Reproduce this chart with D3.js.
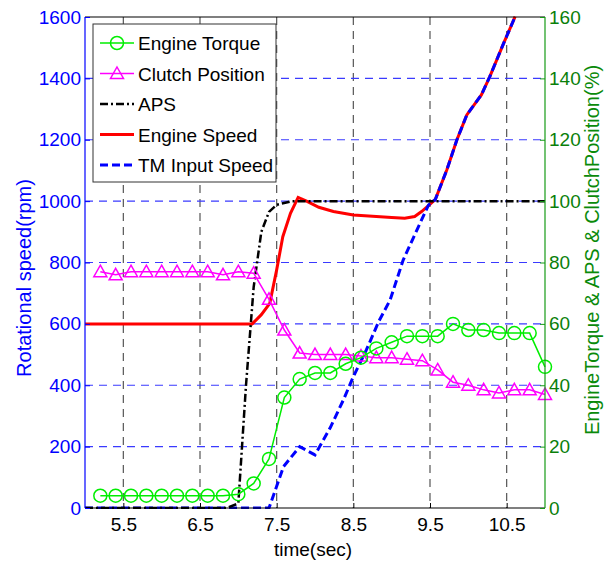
<!DOCTYPE html>
<html><head><meta charset="utf-8">
<script src="https://cdn.jsdelivr.net/npm/d3@7"></script>
<style>body{margin:0;background:#fff}</style></head>
<body><svg id="c" width="613" height="566"></svg>
<script>
const xTicks = [5.5, 6.5, 7.5, 8.5, 9.5, 10.5];
const rpmTicks = [0, 200, 400, 600, 800, 1000, 1200, 1400, 1600];
const pctTicks = [0, 20, 40, 60, 80, 100, 120, 140, 160];

const markerTime = [5.2,5.4,5.6,5.8,6.0,6.2,6.4,6.6,6.8,7.0,7.2,7.4,7.6,7.8,8.0,8.2,8.4,8.6,8.8,9.0,9.2,9.4,9.6,9.8,10.0,10.2,10.4,10.6,10.8,11.0];
const engineTorque = [4,4,4,4,4,4,4,4,4,4.5,8,16,36,42,44,44,47,49,52,54,56,56,56,60,58,58,57,57,57,46];
const clutchPosition = [77,76,77,77,77,77,77,77,76,77,76.5,68,58,50.5,50,50,50,49.5,49,49,48.5,48,45,41,40,38.5,37.5,38.5,38.5,37];

const apsTime = [5.0,6.85,7.0,7.1,7.2,7.3,7.4,7.5,7.7,11.0];
const apsValue = [0,0,1.5,40,72,90,96.5,98.8,100,100];

const engineSpeedTime = [5.0,7.18,7.3,7.41,7.5,7.58,7.68,7.78,7.89,8.05,8.24,8.5,8.85,9.0,9.17,9.3,9.39,9.48,9.57,9.72,9.85,9.98,10.17,10.28,10.46,10.61];
const engineSpeed = [600,600,630,667,776,884,960,1012,1000,980,966,955,949,947,944,950,966,985,1006,1102,1199,1281,1346,1406,1514,1601];

const tmSpeedTime = [5.0,7.4,7.59,7.8,8.0,8.2,8.37,8.5,8.67,8.83,8.98,9.15,9.3,9.48,9.57,9.72,9.85,9.98,10.17,10.28,10.46,10.61];
const tmSpeed = [0,0,135,200,173,262,352,428,515,607,678,808,890,987,1006,1102,1199,1281,1346,1406,1514,1601];

const legendLabels = ["Engine Torque","Clutch Position","APS","Engine Speed","TM Input Speed"];

const L = 85, R = 545, T = 17, B = 508;
const svg = d3.select("#c");
const font = "'Liberation Sans', Arial, sans-serif";
const x = d3.scaleLinear().domain([5, 11]).range([L, R]);
const yL = d3.scaleLinear().domain([0, 1600]).range([B, T]);
const yR = d3.scaleLinear().domain([0, 160]).range([B, T]);

// grid
const g = svg.append("g");
g.selectAll("line.vg").data(xTicks).join("line")
  .attr("x1", d => x(d)).attr("x2", d => x(d)).attr("y1", T).attr("y2", B)
  .attr("stroke", "#555").attr("stroke-width", 1.2).attr("stroke-dasharray", "8,6");
g.selectAll("line.hg").data(rpmTicks.filter(d => d > 0 && d < 1600)).join("line")
  .attr("x1", L).attr("x2", R).attr("y1", d => yL(d)).attr("y2", d => yL(d))
  .attr("stroke", "#3a3aff").attr("stroke-width", 1.1).attr("stroke-dasharray", "8,6");

const clip = svg.append("clipPath").attr("id", "pc").append("rect")
  .attr("x", L).attr("y", T - 1).attr("width", R - L).attr("height", B - T + 2);
const plot = svg.append("g").attr("clip-path", "url(#pc)");

const lineL = (ts, vs) => d3.line().x((d, i) => x(ts[i])).y(d => yL(d))(vs);
const lineR = (ts, vs) => d3.line().x((d, i) => x(ts[i])).y(d => yR(d))(vs);

plot.append("path").attr("d", lineL(engineSpeedTime, engineSpeed))
  .attr("fill", "none").attr("stroke", "#ff0000").attr("stroke-width", 3);
plot.append("path").attr("d", lineL(tmSpeedTime, tmSpeed))
  .attr("fill", "none").attr("stroke", "#0000ff").attr("stroke-width", 3).attr("stroke-dasharray", "8,4");

const tri = (cx, cy) => `M${cx},${cy-6.5}L${cx+6.5},${cy+5}L${cx-6.5},${cy+5}Z`;

svg.append("path").attr("d", lineR(markerTime, clutchPosition))
  .attr("fill", "none").attr("stroke", "#ff00ff").attr("stroke-width", 1.5);
svg.selectAll("path.tri").data(clutchPosition).join("path").attr("class", "tri")
  .attr("d", (d, i) => tri(x(markerTime[i]), yR(d)))
  .attr("fill", "none").attr("stroke", "#ff00ff").attr("stroke-width", 1.5);

svg.append("path").attr("d", lineR(markerTime, engineTorque))
  .attr("fill", "none").attr("stroke", "#00ee00").attr("stroke-width", 1.5);
svg.selectAll("circle.tq").data(engineTorque).join("circle").attr("class", "tq")
  .attr("cx", (d, i) => x(markerTime[i])).attr("cy", d => yR(d)).attr("r", 6.5)
  .attr("fill", "none").attr("stroke", "#00ee00").attr("stroke-width", 1.5);

plot.append("path").attr("d", lineR(apsTime, apsValue))
  .attr("fill", "none").attr("stroke", "#000").attr("stroke-width", 2.5).attr("stroke-dasharray", "8,3,2,3");

// frame
svg.append("line").attr("x1", L).attr("x2", R).attr("y1", T).attr("y2", T).attr("stroke", "#000").attr("stroke-width", 1.2);
svg.append("line").attr("x1", L).attr("x2", R).attr("y1", B).attr("y2", B).attr("stroke", "#000").attr("stroke-width", 1.2);
svg.append("line").attr("x1", L).attr("x2", L).attr("y1", T).attr("y2", B).attr("stroke", "#0000ff").attr("stroke-width", 1.2);
svg.append("line").attr("x1", R).attr("x2", R).attr("y1", T).attr("y2", B).attr("stroke", "#159a15").attr("stroke-width", 1.2);

// axes
const xAxis = svg.append("g").attr("transform", `translate(0,${B})`)
  .call(d3.axisBottom(x).tickValues(xTicks).tickFormat(d3.format(".1f")).tickSize(-5).tickPadding(10));
xAxis.select(".domain").remove();
xAxis.selectAll("text").attr("font-family", font).attr("font-size", 19).attr("fill", "#000");
xAxis.selectAll("line").attr("stroke", "#000");

const yAxisL = svg.append("g").attr("transform", `translate(${L},0)`)
  .call(d3.axisLeft(yL).tickValues(rpmTicks).tickFormat(d3.format("d")).tickSize(-5).tickPadding(4));
yAxisL.select(".domain").remove();
yAxisL.selectAll("text").attr("font-family", font).attr("font-size", 19).attr("fill", "#0000ff");
yAxisL.selectAll("line").attr("stroke", "#0000ff");

const yAxisR = svg.append("g").attr("transform", `translate(${R},0)`)
  .call(d3.axisRight(yR).tickValues(pctTicks).tickFormat(d3.format("d")).tickSize(-5).tickPadding(4));
yAxisR.select(".domain").remove();
yAxisR.selectAll("text").attr("font-family", font).attr("font-size", 19).attr("fill", "#0a7f0a");
yAxisR.selectAll("line").attr("stroke", "#159a15");

// axis labels
svg.append("text").attr("x", 313).attr("y", 556).attr("text-anchor", "middle")
  .attr("font-family", font).attr("font-size", 19).attr("fill", "#000").text("time(sec)");
svg.append("text").attr("transform", "translate(31,278) rotate(-90)").attr("text-anchor", "middle")
  .attr("font-family", font).attr("font-size", 20).attr("fill", "#0000ff").text("Rotational speed(rpm)");
svg.append("text").attr("transform", "translate(599,250) rotate(-90)").attr("text-anchor", "middle")
  .attr("font-family", font).attr("font-size", 20).attr("fill", "#0a8a0a").text("EngineTorque & APS & ClutchPosition(%)");

// legend
const lg = svg.append("g");
lg.append("rect").attr("x", 93).attr("y", 24).attr("width", 183).attr("height", 158)
  .attr("fill", "#fff").attr("stroke", "#333").attr("stroke-width", 1);
const styles = [
  {c: "#00ee00", w: 1.5, dash: null, m: "circle"},
  {c: "#ff00ff", w: 1.5, dash: null, m: "tri"},
  {c: "#000", w: 2.5, dash: "8,3,2,3", m: null},
  {c: "#ff0000", w: 3, dash: null, m: null},
  {c: "#0000ff", w: 3, dash: "8,4", m: null}
];
legendLabels.forEach((lab, i) => {
  const yy = 43 + i * 30.5;
  const s = styles[i];
  const ln = lg.append("line").attr("x1", 100).attr("x2", 134).attr("y1", yy).attr("y2", yy)
    .attr("stroke", s.c).attr("stroke-width", s.w);
  if (s.dash) ln.attr("stroke-dasharray", s.dash);
  if (s.m === "circle") lg.append("circle").attr("cx", 117).attr("cy", yy).attr("r", 6.5).attr("fill", "none").attr("stroke", s.c).attr("stroke-width", 1.5);
  if (s.m === "tri") lg.append("path").attr("d", tri(117, yy)).attr("fill", "none").attr("stroke", s.c).attr("stroke-width", 1.5);
  lg.append("text").attr("x", 138).attr("y", yy + 7).attr("font-family", font).attr("font-size", 19)
    .attr("fill", "#000").text(lab);
});
</script></body></html>
